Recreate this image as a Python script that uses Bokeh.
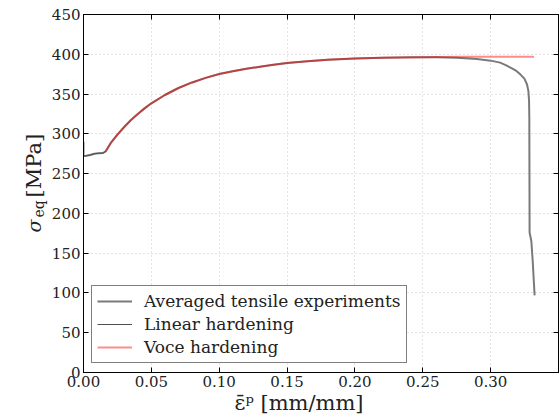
from bokeh.plotting import figure
from bokeh.models import (Range1d, FixedTicker, LinearAxis, Label, Legend, LegendItem, Grid)
from bokeh.embed import file_html
from bokeh.resources import INLINE
import math

# ---- data ----
eps_exp = [0.0, 0.0, 0.002, 0.005, 0.008, 0.011, 0.0145, 0.0164,
           0.020, 0.025, 0.030, 0.035, 0.040, 0.045, 0.050, 0.060, 0.070, 0.080, 0.090,
           0.100, 0.110, 0.120, 0.130, 0.140, 0.150, 0.165, 0.180, 0.200, 0.220,
           0.240, 0.260, 0.275, 0.290, 0.300, 0.307, 0.3115, 0.315, 0.319, 0.322,
           0.325, 0.3268, 0.3278, 0.3283, 0.3285, 0.3286, 0.3287, 0.3293, 0.3300,
           0.3310, 0.3318, 0.3324]
sig_exp = [290, 272, 272.5, 273.5, 275, 275.5, 276, 278,
           288.3, 299, 308.6, 317.3, 325, 332, 338.4, 348.8, 357.6, 364.6, 370.3,
           375.1, 378.7, 381.8, 384.3, 386.8, 389, 391.3, 393.1, 394.8, 395.7,
           396.2, 396.2, 395.6, 394, 392, 389.5, 386, 383, 379, 374.5,
           369, 362, 354, 342, 320, 250, 176, 171, 165,
           140, 115, 97]

eps_lin = [0.0, 0.0, 0.002, 0.005, 0.008, 0.011, 0.0145, 0.0164]
sig_lin = [290, 272, 272.5, 273.5, 275, 275.5, 276, 278]

eps_voce = [0.0164, 0.020, 0.025, 0.030, 0.035, 0.040, 0.045, 0.050, 0.060, 0.070,
            0.080, 0.090, 0.100, 0.110, 0.120, 0.130, 0.140, 0.150, 0.165,
            0.180, 0.200, 0.220, 0.240, 0.260, 0.280, 0.300, 0.320, 0.332]
sig_voce = [278, 288.3, 299, 308.6, 317.3, 325, 332, 338.4, 348.8, 357.6,
            364.6, 370.3, 375.1, 378.7, 381.8, 384.3, 386.8, 389, 391.3,
            393, 394.7, 395.6, 396.1, 396.5, 396.8, 396.9, 397, 397]

x_ticks = [0.0, 0.05, 0.10, 0.15, 0.20, 0.25, 0.30]
x_tick_labels = ["0.00", "0.05", "0.10", "0.15", "0.20", "0.25", "0.30"]
y_ticks = [0, 50, 100, 150, 200, 250, 300, 350, 400, 450]

FONT = "DejaVu Serif"
X0, X1, Y0, Y1 = 0.0, 0.35, 0.0, 450.0

# frame geometry in canvas pixels (used only to place the axis titles)
FL, FR, FT, FB = 83, 558, 14, 372
def dx(px):
    return X0 + (px - FL) * (X1 - X0) / (FR - FL)
def dy(py):
    return Y0 + (FB - py) * (Y1 - Y0) / (FB - FT)

p = figure(width=560, height=417, output_backend="svg", toolbar_location=None,
           x_range=Range1d(X0, X1), y_range=Range1d(Y0, Y1),
           min_border_left=FL, min_border_right=560 - FR, min_border_top=FT,
           min_border_bottom=417 - FB, x_axis_type=None, y_axis_type=None)
p.outline_line_color = "black"
p.outline_line_width = 1
p.background_fill_color = "white"
p.border_fill_color = "white"

def style_axis(ax, show_labels):
    ax.major_tick_in = 5
    ax.major_tick_out = 0
    ax.minor_tick_line_color = None
    ax.axis_line_color = "black"
    ax.major_tick_line_color = "black"
    ax.major_label_text_font = FONT
    ax.major_label_text_color = "#222222"
    ax.major_label_standoff = 3
    ax.major_label_text_font_size = "15px"
    if not show_labels:
        ax.major_label_overrides = {t: "" for t in ax.ticker.ticks}
        ax.major_label_text_font_size = "0px"
        ax.major_label_standoff = 0

xb = LinearAxis(ticker=FixedTicker(ticks=x_ticks))
xb.major_label_overrides = {t: l for t, l in zip(x_ticks, x_tick_labels)}
style_axis(xb, True)
yl = LinearAxis(ticker=FixedTicker(ticks=y_ticks))
style_axis(yl, True)
xt = LinearAxis(ticker=FixedTicker(ticks=x_ticks))
style_axis(xt, False)
yr = LinearAxis(ticker=FixedTicker(ticks=y_ticks))
style_axis(yr, False)
p.add_layout(xb, "below")
p.add_layout(yl, "left")
p.add_layout(xt, "above")
p.add_layout(yr, "right")

gx = Grid(dimension=0, ticker=FixedTicker(ticks=x_ticks), grid_line_color="#c8c8c8",
          grid_line_dash="1 3", grid_line_width=1)
gy = Grid(dimension=1, ticker=FixedTicker(ticks=y_ticks), grid_line_color="#c8c8c8",
          grid_line_dash="1 3", grid_line_width=1)
p.add_layout(gx)
p.add_layout(gy)

r_exp = p.line(eps_exp, sig_exp, line_color="#7a7a7a", line_width=2)
r_lin = p.line(eps_lin, sig_lin, line_color="#505050", line_width=1)
r_voce = p.line(eps_voce, sig_voce, line_color="red", line_alpha=0.45, line_width=2)

legend = Legend(items=[LegendItem(label="Averaged tensile experiments", renderers=[r_exp]),
                       LegendItem(label="Linear hardening", renderers=[r_lin]),
                       LegendItem(label="Voce hardening", renderers=[r_voce])],
                location=(8, 9), label_text_font=FONT, label_text_font_size="17px",
                label_text_color="#222222", glyph_width=35, glyph_height=20,
                label_height=20, label_standoff=12, spacing=3, padding=5, margin=0,
                border_line_color="black", border_line_width=1,
                background_fill_color="white", background_fill_alpha=1)
p.add_layout(legend)

# axis titles: text annotations hosted in side panels (not clipped by the frame),
# positioned with the plot's own scales
ang = math.pi / 2
p.add_layout(Label(x=dx(38.5), y=dy(217), text="eq",
                   angle=ang, text_font=FONT, text_font_size="14px", text_color="#222222",
                   text_align="left", text_baseline="alphabetic"), "left")
p.add_layout(Label(x=dx(33), y=dy(197), text="[MPa]",
                   angle=ang, text_font=FONT, text_font_size="21px", text_color="#222222",
                   text_align="left", text_baseline="alphabetic"), "left")
p.add_layout(Label(x=dx(33), y=dy(232), text="σ",
                   angle=ang, text_font=FONT, text_font_style="italic",
                   text_font_size="19px", text_color="#222222",
                   text_align="left", text_baseline="alphabetic"), "above")
p.add_layout(Label(x=dx(234), y=dy(402), text="ε̄ᵖ [mm/mm]",
                   text_font=FONT, text_font_size="21px",
                   text_color="#222222", text_align="left", text_baseline="alphabetic"), "below")

open("out.html", "w").write(file_html(p, INLINE))
